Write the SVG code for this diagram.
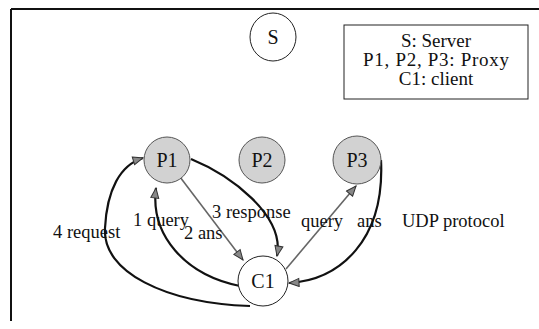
<svg xmlns="http://www.w3.org/2000/svg" width="539" height="329" viewBox="0 0 539 329" font-family="'Liberation Serif', 'DejaVu Serif', serif">
<style>
  text { font-family: 'Liberation Serif', 'DejaVu Serif', serif; fill: #111; }
  .node { font-size: 20px; text-anchor: middle; }
  .legend { font-size: 19px; text-anchor: middle; }
  .lbl { font-size: 18.5px; }
  .proxy { fill: #d2d2d2; stroke: #555; stroke-width: 1; }
  .plain { fill: #fff; stroke: #222; stroke-width: 1; }
  .dark { fill: none; stroke: #111; stroke-width: 2.2; }
  .grey { fill: none; stroke: #666; stroke-width: 1.6; }
</style>
<defs>
  <marker id="ah" markerUnits="userSpaceOnUse" markerWidth="12" markerHeight="10" refX="11" refY="5" orient="auto">
    <path d="M1,1 L11,5 L1,9 z" fill="#888" stroke="#333" stroke-width="1"/>
  </marker>
</defs>
<rect x="0" y="0" width="539" height="329" fill="#fff"/>
<g id="frame">
  <line x1="11" y1="9" x2="539" y2="9" stroke="#111" stroke-width="2"/>
  <line x1="11" y1="9" x2="11" y2="321" stroke="#111" stroke-width="2"/>
</g>
<g id="legend">
  <rect x="344" y="25" width="184" height="74" fill="#fff" stroke="#222" stroke-width="1"/>
  <text class="legend" x="436" y="47">S: Server</text>
  <text class="legend" x="436" y="66" textLength="146">P1, P2, P3: Proxy</text>
  <text class="legend" x="436" y="85">C1: client</text>
</g>
<g id="connectors">
  <path class="dark" d="M250,306 C165,303 102,272 105,228 C107,190 120,165 143,158" marker-end="url(#ah)"/>
  <path class="dark" d="M240,286 C185,275 150,235 156,188" marker-end="url(#ah)"/>
  <path class="grey" d="M180,177 L243,260" marker-end="url(#ah)"/>
  <path class="dark" d="M191,159 C230,175 285,215 277,256" stroke="#333" stroke-width="1.8" marker-end="url(#ah)"/>
  <path class="grey" d="M286,269 L356,186" marker-end="url(#ah)"/>
  <path class="dark" d="M381,160 C385,240 340,280 289,283" marker-end="url(#ah)"/>
</g>
<g id="S">
  <ellipse class="plain" cx="273" cy="37" rx="23" ry="24"/>
  <text class="node" x="273" y="44">S</text>
</g>
<g id="P1">
  <circle class="proxy" cx="167" cy="160" r="23"/>
  <text class="node" x="167" y="167">P1</text>
</g>
<g id="P2">
  <circle class="proxy" cx="262" cy="160" r="23"/>
  <text class="node" x="262" y="167">P2</text>
</g>
<g id="P3">
  <circle class="proxy" cx="357" cy="160" r="24"/>
  <text class="node" x="357" y="167">P3</text>
</g>
<g id="C1">
  <circle class="plain" cx="263" cy="281" r="25"/>
  <text class="node" x="263" y="288">C1</text>
</g>
<g id="labels">
  <text class="lbl" x="53" y="238">4 request</text>
  <text class="lbl" x="133" y="226">1 query</text>
  <text class="lbl" x="184" y="239">2 ans</text>
  <text class="lbl" x="212" y="218">3 response</text>
  <text class="lbl" x="301" y="227">query</text>
  <text class="lbl" x="357" y="227">ans</text>
  <text class="lbl" x="402" y="227">UDP protocol</text>
</g>
</svg>
